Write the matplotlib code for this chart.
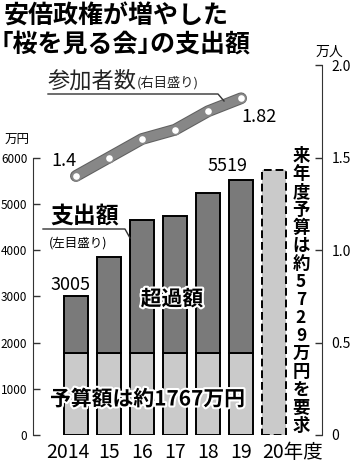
import matplotlib.pyplot as plt
import matplotlib.patheffects as pe
from matplotlib.lines import Line2D
from matplotlib.transforms import blended_transform_factory

plt.rcParams['font.family'] = ['Noto Sans CJK JP', 'DejaVu Sans']

# data
years = ["2014", "15", "16", "17", "18", "19", "20"]
spending = [3005, 3841, 4639, 4725, 5229, 5519]   # 万円
budget = 1767                                     # 万円
request_2020 = 5729                               # 万円
participants = [1.4, 1.5, 1.6, 1.65, 1.75, 1.82]  # 万人

W, H = 350, 462
fig = plt.figure(figsize=(W / 100, H / 100), dpi=100)


def fx(x):
    return x / W


def fy(y):
    return 1 - y / H


ax = fig.add_axes([fx(33), fy(435), fx(322) - fx(33), fy(65) - fy(435)])
ax.set_xlim(-1.3, 7.45)
ax.set_ylim(0, 8000)

dark = "#7a7a7a"
light = "#cacaca"
xs = list(range(len(spending)))
ax.bar(xs, [budget] * len(xs), width=0.72, color=light, edgecolor="black", lw=1.4, zorder=2)
ax.bar(xs, [s - budget for s in spending], bottom=budget, width=0.72,
       color=dark, edgecolor="black", lw=1.4, zorder=2)
ax.bar([6], [request_2020], width=0.72, color=light, edgecolor="black", lw=1.4,
       linestyle=(0, (4, 2)), zorder=2)

for side in ["top", "bottom", "right"]:
    ax.spines[side].set_visible(False)
ax.spines["left"].set_bounds(0, 6000)
ax.spines["left"].set_color("#333333")
ax.set_yticks([0, 1000, 2000, 3000, 4000, 5000, 6000])
ax.tick_params(axis="y", direction="in", length=5, width=1, color="#333333",
               labelsize=8.5, pad=4)
ax.set_xticks([])

ax2 = ax.twinx()
ax2.set_ylim(0, 2.0)
for side in ["top", "bottom", "left"]:
    ax2.spines[side].set_visible(False)
ax2.spines["right"].set_color("#333333")
ax2.set_yticks([0, 0.5, 1.0, 1.5, 2.0])
ax2.set_yticklabels(["0", "0.5", "1.0", "1.5", "2.0"])
ax2.tick_params(axis="y", direction="in", length=5, width=1, color="#333333",
                labelsize=10, pad=7)

ax2.plot(xs, participants, color="#878787", lw=7, solid_capstyle="round", zorder=3,
         path_effects=[pe.Stroke(linewidth=8.5, foreground="#606060"), pe.Normal()])
ax2.plot(xs, participants, "o", ms=6, mfc="white", mec="#878787", mew=1.2, zorder=4)

# x labels
tr = blended_transform_factory(ax.transData, fig.transFigure)
lab_y = fy(452)
ax.text(0.4, lab_y, years[0], transform=tr, ha="right", va="center", fontsize=14)
for i in range(1, 6):
    ax.text(i, lab_y, years[i], transform=tr, ha="center", va="center", fontsize=14)
ax.text(6 - 0.37, lab_y, years[6] + "年度", transform=tr, ha="left", va="center", fontsize=14)

# value labels
ax.text(-0.15, spending[0] + 50, f"{spending[0]}", ha="center", va="bottom", fontsize=13)
ax.text(5 - 0.4, spending[5] + 110, f"{spending[5]}", ha="center", va="bottom", fontsize=13)
ax2.text(-0.35, participants[0] + 0.03, f"{participants[0]}", ha="center", va="bottom", fontsize=13)
ax2.text(5.55, participants[5] - 0.05, f"{participants[5]}", ha="center", va="top", fontsize=13)

halo = [pe.withStroke(linewidth=3, foreground="white")]
fig.text(fx(172), fy(299), "超過額", ha="center", va="center", fontsize=15,
         fontweight="bold", path_effects=halo)
fig.text(fx(50), fy(399), "予算額は約1767万円", ha="left", va="center", fontsize=15,
         fontweight="bold", path_effects=halo)

# vertical note
fig.text(fx(301), fy(291), "\n".join("来年度予算は約5729万円を要求"), ha="center",
         va="center", fontsize=12.5, fontweight="bold", linespacing=1.0)

# title (half-width brackets, as set tight in print)
tkw = dict(ha="left", va="center", fontsize=18, fontweight="bold")
fig.text(fx(4), fy(17), "安倍政権が増やした", **tkw)
fig.text(fx(1), fy(45), "｢桜を見る会｣の支出額", **tkw)

# units
fig.text(fx(5), fy(140), "万円", ha="left", va="center", fontsize=9)
fig.text(fx(316), fy(52), "万人", ha="left", va="center", fontsize=10)

# legend-like labels
fig.text(fx(48), fy(81), "参加者数", ha="left", va="center", fontsize=16, color="#222222")
fig.text(fx(137), fy(83), "(右目盛り)", ha="left", va="center", fontsize=9.5, color="#222222")
fig.add_artist(Line2D([fx(48), fx(218), fx(224)], [fy(94), fy(94), fy(101)],
                      color="#333333", lw=1))

fig.text(fx(50), fy(216), "支出額", ha="left", va="center", fontsize=16.5, fontweight="bold")
fig.text(fx(49), fy(243), "(左目盛り)", ha="left", va="center", fontsize=9)
fig.add_artist(Line2D([fx(43), fx(125), fx(130)], [fy(229), fy(229), fy(238)],
                      color="#333333", lw=1))

fig.savefig("out.png", dpi=100)
